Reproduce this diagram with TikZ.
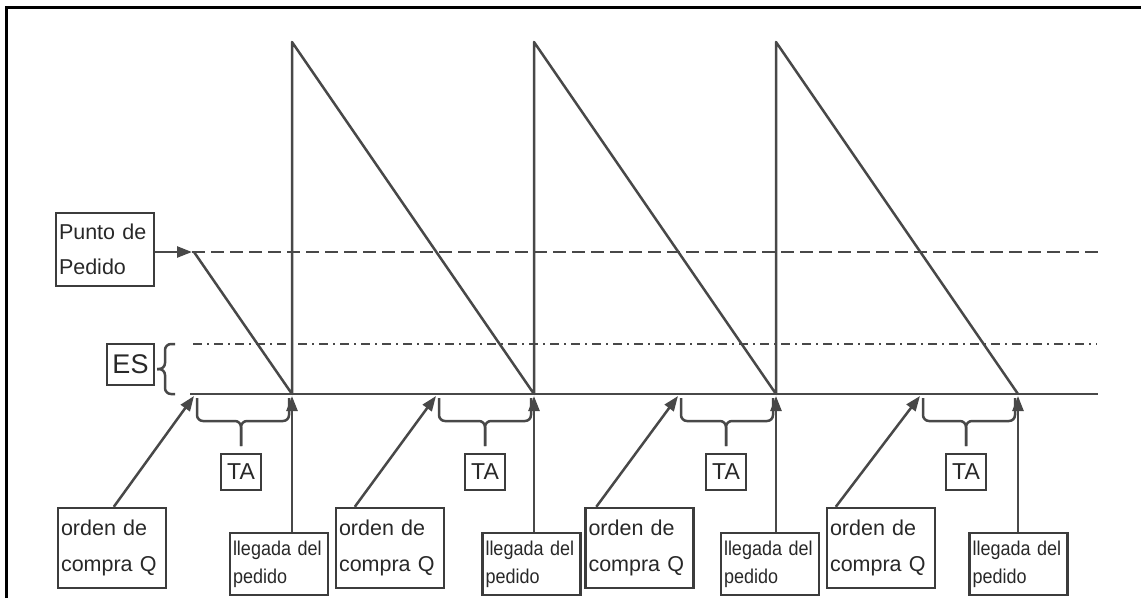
\documentclass[tikz,border=0pt]{standalone}
\usepackage{fontspec}
\setmainfont{Liberation Sans}
\newfontfamily\narrowfont{Liberation Sans}[FakeStretch=0.9]
\usetikzlibrary{arrows.meta}
\definecolor{inkgray}{RGB}{72,72,72}
\definecolor{boxgray}{RGB}{60,60,60}
\definecolor{txtgray}{RGB}{40,40,40}

\begin{document}
\begin{tikzpicture}[x=1pt,y=-1pt,lbl/.style={draw=boxgray,line width=2.4pt,align=left,inner xsep=3pt,inner ysep=0pt,text=txtgray},orden/.style={lbl,text width=102pt,minimum height=80pt,font=\fontsize{21.5}{36}\selectfont},llegada/.style={lbl,text width=92pt,minimum height=62pt,font=\narrowfont\fontsize{20}{28}\selectfont},tabox/.style={lbl,align=center,minimum width=40pt,minimum height=36pt,inner xsep=2pt,font=\fontsize{23}{24}\selectfont},line/.style={draw=inkgray,line width=2.5pt},arrow/.style={line,-{Triangle[length=15pt,width=11pt]}},curl/.style={line,rounded corners=6pt}]
\useasboundingbox (0,0) rectangle (1141,598);
\draw[black,line width=3pt] (6,598) -- (6,7) -- (1141,7);
\coordinate (rop) at (192,252);
\coordinate (q1) at (194,396);
\coordinate (q2) at (436,396);
\coordinate (q3) at (678,396);
\coordinate (q4) at (920,396);
\coordinate (a1) at (292,396);
\coordinate (a2) at (534,396);
\coordinate (a3) at (776,396);
\coordinate (a4) at (1018,396);
\draw[line,dash pattern=on 13pt off 6pt] (rop) -- (1100,252);
\draw[line,dash pattern=on 9pt off 5pt on 2pt off 5pt] (193,344) -- (1097,344);
\draw[line] (190,394) -- (1098,394);
\draw[line,line join=round] (194,252) -- (292,394) -- (292,42) -- (534,394) -- (534,42) -- (776,394) -- (776,42) -- (1018,394);
\node[lbl,text width=92pt,minimum height=73pt,font=\fontsize{21.5}{35}\selectfont] (punto) at (105,249.5) {Punto de\\Pedido};
\node[lbl,align=center,minimum width=47pt,minimum height=41pt,inner xsep=2pt,font=\fontsize{27}{28}\selectfont] (es) at (130.5,364.5) {ES};
\node[orden] (o1) at (112,548) {orden de\\compra Q};
\node[orden] (o2) at (390,548) {orden de\\compra Q};
\node[orden] (o3) at (639.5,548) {orden de\\compra Q};
\node[orden] (o4) at (881,548) {orden de\\compra Q};
\node[llegada] (l1) at (279,564) {llegada del\\pedido};
\node[llegada] (l2) at (531.5,564) {llegada del\\pedido};
\node[llegada] (l3) at (770,564) {llegada del\\pedido};
\node[llegada] (l4) at (1018.5,564) {llegada del\\pedido};
\node[tabox] (t1) at (241,472) {TA};
\node[tabox] (t2) at (485,472) {TA};
\node[tabox] (t3) at (726,472) {TA};
\node[tabox] (t4) at (966,472) {TA};
\draw[arrow] (punto.east |- rop) -- (rop);
\draw[curl] (175,344) -- (165,344) -- (165,369) -- (157,369);
\draw[curl] (175,394) -- (165,394) -- (165,369) -- (157,369);
\foreach \xa/\xb/\xm in {197/289/241,439/531/485,681/773/726,923/1015/966} {
  \draw[curl] (\xa,398) -- (\xa,421) -- (\xm,421) -- (\xm,446);
  \draw[curl] (\xb,398) -- (\xb,421) -- (\xm,421) -- (\xm,446);
}
\draw[arrow] ([xshift=57pt]o1.north west) -- (q1);
\draw[arrow] ([xshift=20pt]o2.north west) -- (q2);
\draw[arrow] ([xshift=12pt]o3.north west) -- (q3);
\draw[arrow] ([xshift=10pt]o4.north west) -- (q4);
\draw[arrow] (l1.north -| a1) -- (a1);
\draw[arrow] (l2.north -| a2) -- (a2);
\draw[arrow] (l3.north -| a3) -- (a3);
\draw[arrow] (l4.north -| a4) -- (a4);
\end{tikzpicture}
\end{document}
